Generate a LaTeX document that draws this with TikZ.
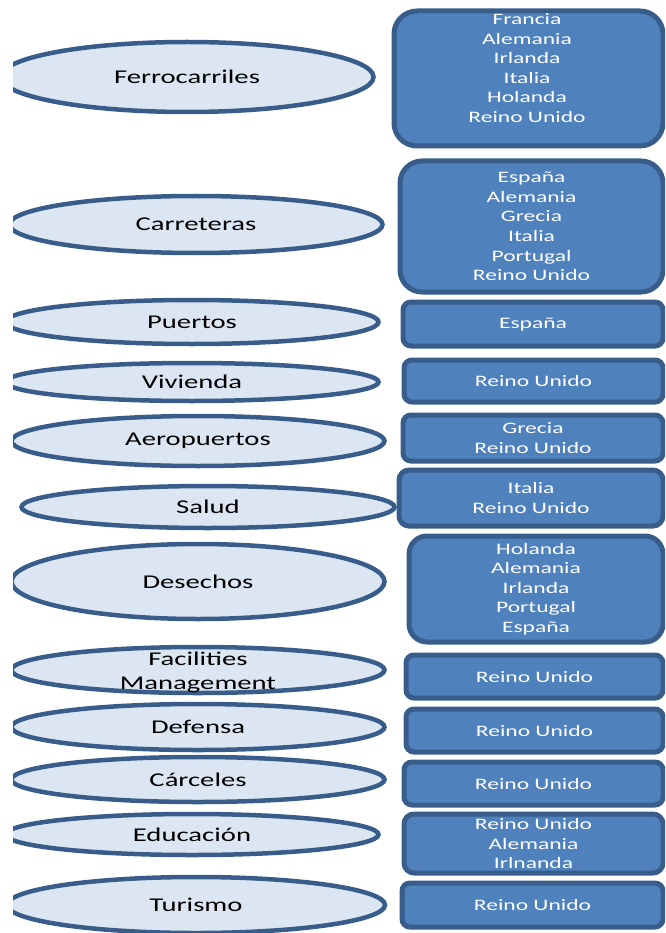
\documentclass[tikz,border=0pt]{standalone}
\usepackage{fontspec}
\setmainfont{Carlito}[FakeStretch=1.47]
\usetikzlibrary{shapes.geometric}

\definecolor{edge}{HTML}{385D8A}
\definecolor{sectorfill}{HTML}{DCE6F2}
\definecolor{paisfill}{HTML}{4F81BD}

\begin{document}
\begin{tikzpicture}[
      x=1pt, y=-1pt,
      sector/.style={ellipse, draw=edge, line width=4.5pt, fill=sectorfill,
        inner sep=0pt, minimum width=373pt, font=\fontsize{19.5}{24}\selectfont},
      pais/.style={rectangle, draw=edge, line width=5pt, fill=paisfill,
        text=white, inner sep=0pt, align=center, rounded corners=8pt,
        font=\fontsize{16}{19.6}\selectfont}
    ]
    \useasboundingbox (0,0) rectangle (665,933);
    \clip (13,0) rectangle (665,933);

    % sectors
    \node (ferro) [sector, minimum height=70pt] at (187,77) {Ferrocarriles};
    \node (carre) [sector, minimum height=57pt] at (196,224.5) {Carreteras};
    \node (puert) [sector, minimum height=44pt] at (192,322) {Puertos};
    \node (vivie) [sector, minimum height=38pt] at (192,382) {Vivienda};
    \node (aerop) [sector, minimum height=50pt] at (198,441) {Aeropuertos};
    \node (salud) [sector, minimum height=42pt] at (208,507) {Salud};
    \node (desec) [sector, minimum height=75pt] at (198,581.5) {Desechos};
    \node (facil) [sector, minimum height=46pt] at (198,670) {};
    \node (facil-t) [align=center, font=\fontsize{19.5}{24}\selectfont]
      at (198,672) {Facilities\\Management};
    \node (defen) [sector, minimum height=46pt] at (198,727) {Defensa};
    \node (carce) [sector, minimum height=45pt] at (198,779.5) {Cárceles};
    \node (educa) [sector, minimum height=41pt] at (192,834.5) {Educación};
    \node (turis) [sector, minimum height=56pt, minimum width=378pt] at (196,905) {Turismo};

    % countries
    \node (ferro-p) [pais, minimum width=269pt, minimum height=135pt,
      rounded corners=23pt] at (528.5,78.5) {};
    \node (ferro-t) [pais, draw=none, fill=none] at (527,68)
      {Francia\\Alemania\\Irlanda\\Italia\\Holanda\\Reino Unido};
    \node (carre-p) [pais, minimum width=263pt, minimum height=131pt,
      rounded corners=22pt] at (531.5,226.5)
      {España\\Alemania\\Grecia\\Italia\\Portugal\\Reino Unido};
    \node (puert-p) [pais, minimum width=260pt, minimum height=44pt] at (533,324) {España};
    \node (vivie-p) [pais, minimum width=259pt, minimum height=42pt] at (533.5,381) {Reino Unido};
    \node (aerop-p) [pais, minimum width=260pt, minimum height=46pt] at (533,438)
      {Grecia\\Reino Unido};
    \node (salud-p) [pais, minimum width=264pt, minimum height=56pt,
      rounded corners=10pt] at (531,498) {Italia\\Reino Unido};
    \node (desec-p) [pais, minimum width=254pt, minimum height=106pt,
      rounded corners=18pt] at (536,589)
      {Holanda\\Alemania\\Irlanda\\Portugal\\España};
    \node (facil-p) [pais, minimum width=257pt, minimum height=43pt] at (534.5,676.5) {Reino Unido};
    \node (defen-p) [pais, minimum width=257pt, minimum height=43pt] at (534.5,730.5) {Reino Unido};
    \node (carce-p) [pais, minimum width=259pt, minimum height=43pt] at (533.5,783.5) {Reino Unido};
    \node (educa-p) [pais, minimum width=259pt, minimum height=59pt,
      rounded corners=10pt] at (533.5,843.5) {Reino Unido\\Alemania\\Irlnanda};
    \node (turis-p) [pais, minimum width=261pt, minimum height=44pt] at (532.5,905) {Reino Unido};
  \end{tikzpicture}
\end{document}
